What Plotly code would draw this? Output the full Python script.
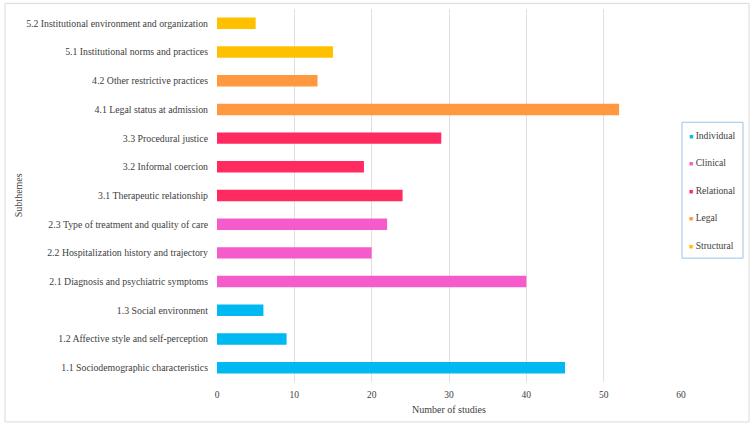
import plotly.graph_objects as go

categories = [
    "1.1 Sociodemographic characteristics",
    "1.2 Affective style and self-perception",
    "1.3 Social environment",
    "2.1 Diagnosis and psychiatric symptoms",
    "2.2 Hospitalization history and trajectory",
    "2.3 Type of treatment and quality of care",
    "3.1 Therapeutic relationship",
    "3.2 Informal coercion",
    "3.3 Procedural justice",
    "4.1 Legal status at admission",
    "4.2 Other restrictive practices",
    "5.1 Institutional norms and practices",
    "5.2 Institutional environment and organization",
]
values = [45, 9, 6, 40, 20, 22, 24, 19, 29, 52, 13, 15, 5]
groups = ["Individual", "Individual", "Individual",
          "Clinical", "Clinical", "Clinical",
          "Relational", "Relational", "Relational",
          "Legal", "Legal", "Structural", "Structural"]
group_names = ["Individual", "Clinical", "Relational", "Legal", "Structural"]
group_colors = ["#00B9F2", "#F55BCB", "#FF2A60", "#FF993F", "#FFC000"]
x_ticks = [0, 10, 20, 30, 40, 50, 60]

color_of = dict(zip(group_names, group_colors))
FONT = "Liberation Serif"
TXT = "#404040"

fig = go.Figure()
fig.add_trace(go.Bar(
    x=values, y=categories, orientation="h",
    marker=dict(color=[color_of[g] for g in groups], line=dict(width=0)),
    showlegend=False, hoverinfo="x+y",
))

L, R, T, B = 217, 72, 8.6, 45
W, H = 753, 427
pw, ph = W - L - R, H - T - B

def px_x(p):
    return (p - L) / pw

def px_y(p):
    return (H - B - p) / ph

annotations = [
    dict(text="Subthemes", textangle=-90, xref="paper", yref="paper",
         x=px_x(18), y=px_y(195), xanchor="center", yanchor="middle",
         showarrow=False, font=dict(family=FONT, size=10, color=TXT)),
    dict(text="Number of studies", xref="paper", yref="paper",
         x=px_x(449), y=px_y(410), xanchor="center", yanchor="middle",
         showarrow=False, font=dict(family=FONT, size=10, color=TXT)),
]
# custom legend (swatch + label), one row per group
leg_top, leg_step = 135, 27.6
for i, (name, col) in enumerate(zip(group_names, group_colors)):
    annotations.append(dict(
        text="<span style='color:%s;font-size:7px'>■</span> %s" % (col, name),
        xref="paper", yref="paper",
        x=px_x(687), y=px_y(leg_top + i * leg_step),
        xanchor="left", yanchor="middle", showarrow=False,
        font=dict(family=FONT, size=9.6, color=TXT),
    ))

fig.update_layout(
    width=W, height=H,
    margin=dict(l=L, r=R, t=T, b=B, autoexpand=False),
    paper_bgcolor="white", plot_bgcolor="white",
    font=dict(family=FONT, size=10, color=TXT),
    bargap=0.6,
    showlegend=False,
    xaxis=dict(
        range=[0, 60], tickvals=x_ticks, ticktext=[str(t) for t in x_ticks],
        showgrid=True, gridcolor="#E0E0E0", gridwidth=1,
        zeroline=False, showline=False, ticks="", automargin=False,
        tickfont=dict(size=9.5, color=TXT), ticklabelstandoff=5,
    ),
    yaxis=dict(
        categoryorder="array", categoryarray=categories,
        showgrid=False, zeroline=False, showline=False, ticks="",
        automargin=False, ticklabelstandoff=8,
        tickfont=dict(size=9.8, color=TXT),
    ),
    annotations=annotations,
    shapes=[
        dict(type="rect", xref="paper", yref="paper",
             x0=px_x(5), x1=px_x(749), y0=px_y(422), y1=px_y(3),
             line=dict(color="#D9D9D9", width=1), fillcolor="rgba(0,0,0,0)", layer="below"),
        dict(type="rect", xref="paper", yref="paper",
             x0=px_x(682), x1=px_x(743), y0=px_y(258), y1=px_y(122),
             line=dict(color="#9DC3E6", width=1), fillcolor="white", layer="above"),
    ],
)

fig.write_html("out.html", config={"displayModeBar": False},
               post_script="document.body.style.margin='0';")
